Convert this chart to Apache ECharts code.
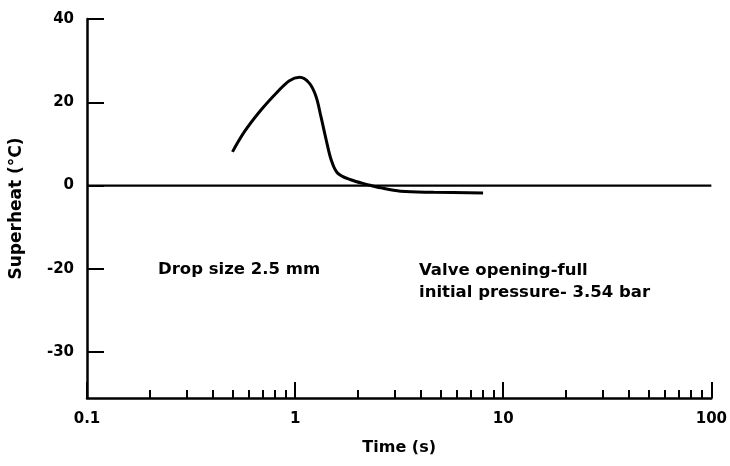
<!DOCTYPE html>
<html>
<head>
<meta charset="utf-8">
<script src="https://cdn.jsdelivr.net/npm/echarts@6/dist/echarts.min.js"></script>
<style>
html,body{margin:0;padding:0;background:#fff;}
#chart{width:730px;height:466px;}
</style>
</head>
<body>
<div id="chart"></div>
<script>
// Data
const timeS = [0.5, 0.572, 0.687, 0.826, 0.939, 1.05, 1.17, 1.26, 1.33, 1.41, 1.49, 1.60, 1.85, 2.23, 2.58, 3.21, 4.63, 8.0];
const superheat = [8.1, 13.0, 18.2, 22.6, 25.2, 26.0, 24.6, 21.4, 16.6, 11.0, 6.2, 3.0, 1.4, 0.24, -0.55, -1.36, -1.6, -1.75];
const zeroLineX = [0.1, 100];
const zeroLineY = [0, 0];

const yTickValues = [40, 20, 0, -20, -40];
const yTickLabels = ['40', '20', '0', '-20', '-30'];
const xMajorTicks = [0.1, 1, 10, 100];
const xMajorLabels = ['0.1', '1', '10', '100'];
const xMinorTicks = [0.2, 0.3, 0.4, 0.5, 0.6, 0.7, 0.8, 0.9,
                     2, 3, 4, 5, 6, 7, 8, 9,
                     20, 30, 40, 50, 60, 70, 80, 90];

const FONT = 'DejaVu Sans';
const chart = echarts.init(document.getElementById('chart'), null, {renderer: 'canvas'});

const curve = timeS.map((t, i) => [t, superheat[i]]);
const zero = zeroLineX.map((t, i) => [t, zeroLineY[i]]);

chart.setOption({
  animation: false,
  backgroundColor: '#fff',
  grid: {left: 83, right: 18, top: 19, bottom: 68, containLabel: false},
  xAxis: [{
    type: 'log', logBase: 10, min: 0.1, max: 100, position: 'bottom',
    name: 'Time (s)', nameLocation: 'middle', nameGap: 42,
    nameTextStyle: {fontFamily: FONT, fontWeight: 'bold', fontSize: 16, color: '#000'},
    axisLine: {show: true, onZero: false, lineStyle: {color: '#000', width: 2.5}},
    axisTick: {show: true, inside: true, length: 16, customValues: xMajorTicks, lineStyle: {color: '#000', width: 2}},
    axisLabel: {show: true, customValues: xMajorTicks, margin: 14,
      formatter: v => { const i = xMajorTicks.findIndex(m => Math.abs(m - v) < 1e-9); return i >= 0 ? xMajorLabels[i] : ''; },
      fontFamily: FONT, fontWeight: 'bold', fontSize: 15, color: '#000'},
    splitLine: {show: false}, minorTick: {show: false}
  }, {
    type: 'log', logBase: 10, min: 0.1, max: 100, position: 'bottom',
    axisLine: {show: false, onZero: false},
    axisTick: {show: true, inside: true, length: 8, customValues: xMinorTicks, lineStyle: {color: '#000', width: 2}},
    axisLabel: {show: false},
    splitLine: {show: false}
  }],
  yAxis: {
    type: 'value', min: -51, max: 40,
    name: 'Superheat (°C)', nameLocation: 'middle', nameGap: 62, nameRotate: 90,
    nameTextStyle: {fontFamily: FONT, fontWeight: 'bold', fontSize: 17, color: '#000'},
    axisLine: {show: true, onZero: false, lineStyle: {color: '#000', width: 2.5}},
    axisTick: {show: true, inside: true, length: 17, customValues: yTickValues, lineStyle: {color: '#000', width: 2}},
    axisLabel: {show: true, customValues: yTickValues, margin: 13,
      formatter: v => { const i = yTickValues.indexOf(v); return i >= 0 ? yTickLabels[i] : ''; },
      fontFamily: FONT, fontWeight: 'bold', fontSize: 15, color: '#000'},
    splitLine: {show: false}
  },
  series: [{
    type: 'line', data: zero, xAxisIndex: 0, showSymbol: false,
    lineStyle: {color: '#000', width: 2.2}
  }, {
    type: 'line', data: curve, xAxisIndex: 0, showSymbol: false, smooth: 0.35,
    lineStyle: {color: '#000', width: 3}
  }],
  graphic: [
    {type: 'text', left: 158, top: 261, style: {text: 'Drop size 2.5 mm', fontFamily: FONT, fontWeight: 'bold', fontSize: 16.5, fill: '#000'}},
    {type: 'text', left: 419, top: 260, style: {text: 'Valve opening-full\ninitial pressure- 3.54 bar', lineHeight: 22, fontFamily: FONT, fontWeight: 'bold', fontSize: 16.5, fill: '#000'}}
  ]
});
</script>
</body>
</html>
